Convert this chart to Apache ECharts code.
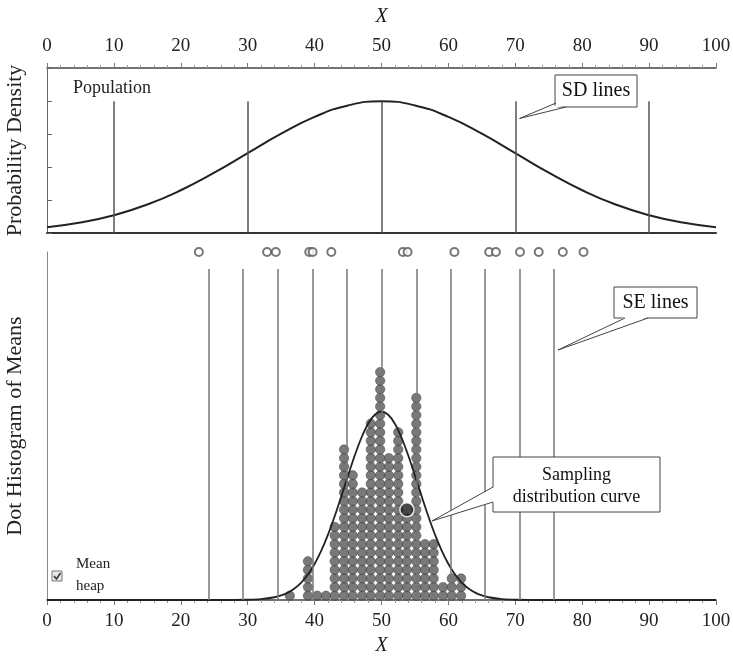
<!DOCTYPE html>
<html><head><meta charset="utf-8">
<script src="https://cdn.jsdelivr.net/npm/echarts@6/dist/echarts.min.js"></script>
<style>html,body{margin:0;padding:0;background:#fff}#c{width:733px;height:660px}</style>
</head><body><div id="c"></div>
<script>
// ---- data ----
const xTickLabels = [0,10,20,30,40,50,60,70,80,90,100];
// population density curve (normal, mean 50, SD 20)
const popX = [0,5,10,15,20,25,30,35,40,45,50,55,60,65,70,75,80,85,90,95,100];
const popDensity = [0.00088,0.00159,0.00270,0.00431,0.00648,0.00913,0.01210,0.01506,0.01760,0.01933,0.01995,
                    0.01933,0.01760,0.01506,0.01210,0.00913,0.00648,0.00431,0.00270,0.00159,0.00088];
const sdLineX = [10,30,50,70,90];
const sdLineTop = 0.01995;
// the current sample of 15 values (circles)
const sampleValues = [22.7,32.9,34.2,39.2,39.7,42.5,53.2,53.9,60.9,66.1,67.1,70.7,73.5,77.1,80.2];
// SE lines of the sampling distribution
const seLineX = [24.2,29.3,34.5,39.7,44.8,50.0,55.2,60.3,65.5,70.7,75.8];
const seLineTop = 38.5;
// mean heap: bin centres and number of dots stacked in each
const heapBinX = [36.3,37.7,39.0,40.4,41.7,43.0,44.4,45.7,47.1,48.4,49.8,51.1,52.5,53.8,55.2,56.5,57.8,59.2,60.5,61.9];
const heapCounts = [1,0,5,1,1,9,18,15,13,21,27,17,20,10,24,7,7,2,3,3];
const currentMeanX = 53.8;
// sampling distribution curve (in dot-row units)
const sampX = [0,25,30,32,34,35,36,37,38,39,40,41,42,43,44,45,46,47,48,49,50,51,52,53,54,55,56,57,58,59,60,61,62,63,64,65,66,68,70,75,100];
const sampCurve = [0,0,0.03,0.10,0.32,0.53,0.86,1.34,2.03,2.96,4.19,5.74,7.60,9.74,12.08,14.49,16.81,18.87,20.50,21.54,21.90,
                   21.54,20.50,18.87,16.81,14.49,12.08,9.74,7.60,5.74,4.19,2.96,2.03,1.34,0.86,0.53,0.32,0.10,0.03,0,0];

// ---- build series data ----
const serif = 'Liberation Serif';
const heapPts = [];
heapBinX.forEach((x,i)=>{ for(let r=0;r<heapCounts[i];r++) heapPts.push([x, r+0.5]); });
const meanPt = [[currentMeanX, heapCounts[heapBinX.indexOf(currentMeanX)] + 0.5]];
const heapYMax = 40.47;
const samplePts = sampleValues.map(v=>[v, heapYMax]);

const chart = echarts.init(document.getElementById('c'), null, {renderer:'canvas'});

function xAx(grid, pos, showLabels, nameGap, margin){
  return {
    type:'value', gridIndex:grid, position:pos, min:0, max:100, interval:10,
    name: showLabels ? 'X' : '', nameLocation:'middle', nameGap:nameGap,
    nameTextStyle:{fontFamily:serif, fontStyle:'italic', fontSize:20, color:'#222'},
    axisLine:{show:true, onZero:false, lineStyle:{color:'#444', width:1.5}},
    axisTick:{show:showLabels, length:5, lineStyle:{color:'#777'}},
    minorTick:{show:showLabels, splitNumber:5, length:3, lineStyle:{color:'#999'}},
    axisLabel:{show:showLabels, fontFamily:serif, fontSize:19, color:'#222', margin:margin,
      formatter:(v)=> xTickLabels.includes(v) ? String(v) : ''},
    splitLine:{show:false}
  };
}

const option = {
  animation:false,
  backgroundColor:'#fff',
  grid:[
    {left:47, right:17, top:68, height:165, outerBoundsMode:'none', containLabel:false},
    {left:47, right:17, top:252, height:348, outerBoundsMode:'none', containLabel:false}
  ],
  xAxis:[
    xAx(0,'top',true,41,12),
    xAx(1,'bottom',true,36,12),
    Object.assign(xAx(0,'bottom',false,0,0), {axisLine:{show:true,onZero:false,lineStyle:{color:'#333',width:2}}})
  ],
  yAxis:[
    {type:'value', gridIndex:0, min:0, max:0.025, interval:0.005,
     name:'Probability Density', nameLocation:'middle', nameGap:21,
     nameTextStyle:{fontFamily:serif, fontSize:22, color:'#222'},
     axisLine:{show:true, lineStyle:{color:'#666', width:1}},
     axisTick:{show:true, inside:true, length:5, lineStyle:{color:'#666'}},
     axisLabel:{show:false}, splitLine:{show:false}},
    {type:'value', gridIndex:1, min:0, max:heapYMax,
     name:'Dot Histogram of Means', nameLocation:'middle', nameGap:21,
     nameTextStyle:{fontFamily:serif, fontSize:22, color:'#222'},
     axisLine:{show:true, lineStyle:{color:'#888', width:1}},
     axisTick:{show:false}, axisLabel:{show:false}, splitLine:{show:false}}
  ],
  series:[
    {type:'line', xAxisIndex:0, yAxisIndex:0, data:popX.map((x,i)=>[x,popDensity[i]]),
     smooth:true, showSymbol:false, symbol:'none', lineStyle:{color:'#222', width:2}, z:3,
     markLine:{silent:true, symbol:['none','none'], label:{show:false},
       lineStyle:{color:'#555', width:1.5, type:'solid'},
       data: sdLineX.map(x=>[{coord:[x,0]},{coord:[x,sdLineTop]}])}},
    {type:'scatter', xAxisIndex:1, yAxisIndex:1, data:samplePts, clip:false,
     symbol:'emptyCircle', symbolSize:8, itemStyle:{color:'#555', borderColor:'#555', borderWidth:1}, z:1,
     markLine:{silent:true, symbol:['none','none'], label:{show:false},
       lineStyle:{color:'#777', width:1.5, type:'solid'},
       data: seLineX.map(x=>[{coord:[x,0]},{coord:[x,seLineTop]}])}},
    {type:'scatter', xAxisIndex:1, yAxisIndex:1, data:heapPts,
     symbol:'circle', symbolSize:9.4, itemStyle:{color:'#575757', borderColor:'#3f3f3f', borderWidth:0.6}, z:2},
    {type:'line', xAxisIndex:1, yAxisIndex:1, data:sampX.map((x,i)=>[x,sampCurve[i]]),
     smooth:0.3, showSymbol:false, symbol:'none', lineStyle:{color:'#222', width:1.8}, z:4},
    {type:'scatter', xAxisIndex:1, yAxisIndex:1, data:meanPt,
     symbol:'circle', symbolSize:14, itemStyle:{color:'#1a1a1a', borderColor:'#fff', borderWidth:1.5}, z:5}
  ],
  graphic:[
    {type:'text', left:73, top:79, style:{text:'Population', font:'18px "Liberation Serif"', fill:'#222'}},
    // SD lines callout
    {type:'rect', shape:{x:555, y:75, width:82, height:32}, style:{fill:'#fff', stroke:'#444', lineWidth:1}, z:10},
    {type:'polygon', shape:{points:[[557,105],[566,105],[519.5,118.5]]}, style:{fill:'#fff', stroke:null}, z:11},
    {type:'polyline', shape:{points:[[556,103],[519.5,118.5],[566,107]]}, style:{fill:null, stroke:'#444', lineWidth:1}, z:12},
    {type:'text', x:596, y:91, style:{text:'SD lines', font:'20px "Liberation Serif"', fill:'#111', align:'center', verticalAlign:'middle'}, z:12},
    // SE lines callout
    {type:'rect', shape:{x:614, y:287, width:83, height:31}, style:{fill:'#fff', stroke:'#444', lineWidth:1}, z:10},
    {type:'polygon', shape:{points:[[625,317],[648,317],[558,350]]}, style:{fill:'#fff', stroke:null}, z:11},
    {type:'polyline', shape:{points:[[625,318],[558,350],[648,318]]}, style:{fill:null, stroke:'#444', lineWidth:1}, z:12},
    {type:'text', x:655.5, y:302.5, style:{text:'SE lines', font:'20px "Liberation Serif"', fill:'#111', align:'center', verticalAlign:'middle'}, z:12},
    // Sampling distribution curve callout
    {type:'rect', shape:{x:493, y:457, width:167, height:55}, style:{fill:'#fff', stroke:'#444', lineWidth:1}, z:10},
    {type:'polygon', shape:{points:[[494,487],[494,502],[432,521]]}, style:{fill:'#fff', stroke:null}, z:11},
    {type:'polyline', shape:{points:[[493,487],[432,521],[493,502]]}, style:{fill:null, stroke:'#444', lineWidth:1}, z:12},
    {type:'text', x:576.5, y:475, style:{text:'Sampling', font:'18px "Liberation Serif"', fill:'#111', align:'center', verticalAlign:'middle'}, z:12},
    {type:'text', x:576.5, y:497, style:{text:'distribution curve', font:'18px "Liberation Serif"', fill:'#111', align:'center', verticalAlign:'middle'}, z:12},
    // Mean heap checkbox
    {type:'rect', shape:{x:52, y:571, width:10, height:10}, style:{fill:'#e6e6e6', stroke:'#777', lineWidth:1}, z:10},
    {type:'polyline', shape:{points:[[54,576],[56.5,579],[60.5,573]]}, style:{fill:null, stroke:'#333', lineWidth:1.5}, z:11},
    {type:'text', left:76, top:557, style:{text:'Mean', font:'15px "Liberation Serif"', fill:'#222'}},
    {type:'text', left:76, top:579, style:{text:'heap', font:'15px "Liberation Serif"', fill:'#222'}}
  ]
};
chart.setOption(option);
</script>
</body></html>
